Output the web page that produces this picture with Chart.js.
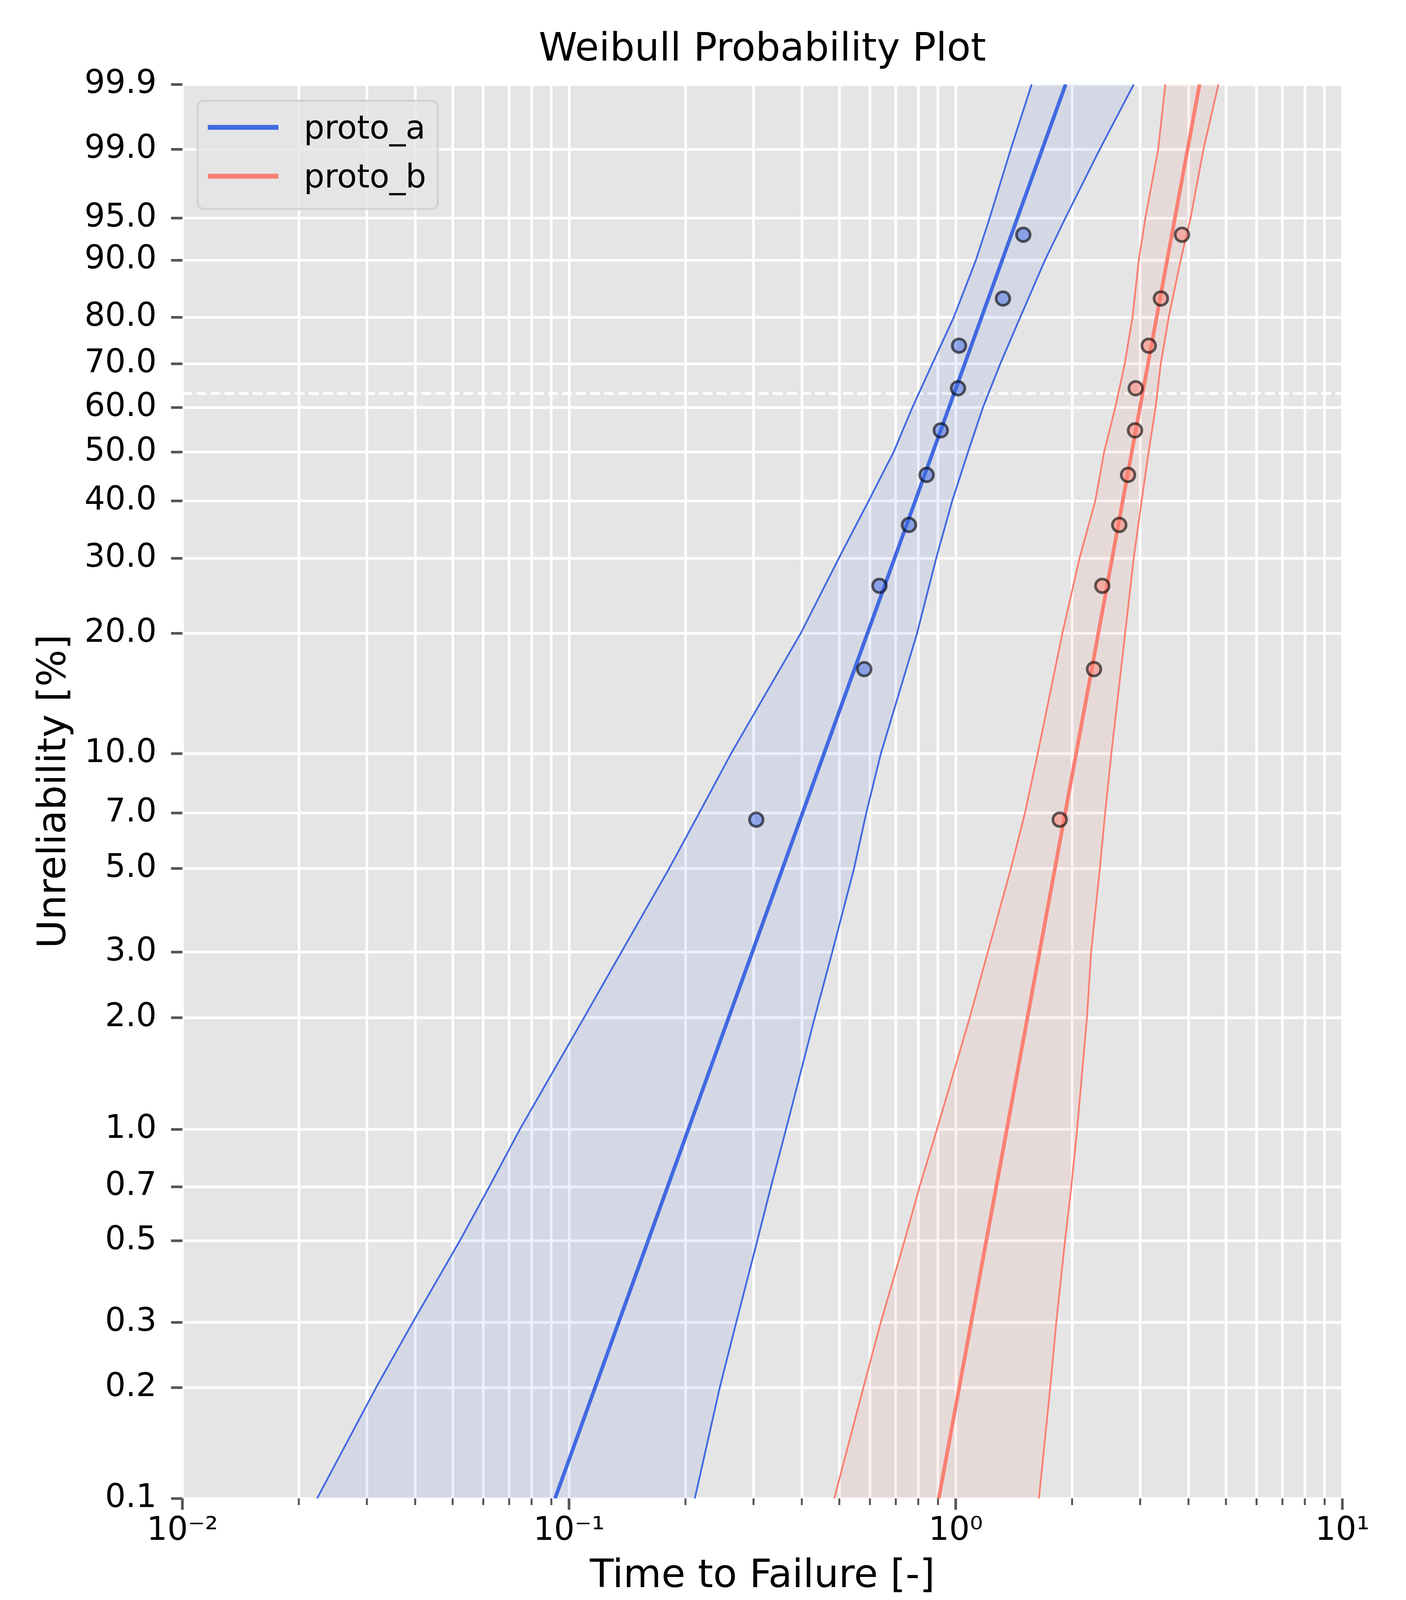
<!DOCTYPE html>
<html>
<head>
<meta charset="utf-8">
<title>Weibull Probability Plot</title>
<script src="https://cdn.jsdelivr.net/npm/chart.js@4.4.1/dist/chart.umd.min.js"></script>
<style>
  html, body { margin: 0; padding: 0; background: #ffffff; }
</style>
</head>
<body>
<canvas id="canvas" width="3600" height="4200"></canvas>
<script>
// unreliability levels (%) where the confidence bounds were read
const levels = [0.1, 0.2, 0.3, 0.5, 0.7, 1, 2, 3, 5, 7, 10, 20, 30, 40, 50, 60, 70, 80, 90, 95, 99, 99.9]

// proto_a : bounds and fit (time to failure)
const aLower = [0.0223, 0.0317, 0.0394, 0.0522, 0.0622, 0.0746, 0.1093, 0.1366, 0.1814, 0.2170, 0.2625, 0.3972, 0.4983, 0.5953, 0.6908, 0.7725, 0.8699, 0.9883, 1.128, 1.224, 1.388, 1.572]
const aUpper = [0.2115, 0.2454, 0.2706, 0.3068, 0.3329, 0.3640, 0.4319, 0.4795, 0.5458, 0.5869, 0.6405, 0.7943, 0.8901, 0.9793, 1.076, 1.176, 1.304, 1.468, 1.702, 1.922, 2.359, 2.888]
const aFitF = [0.1, 99.9]
const aFitT = [0.092, 1.925]

// proto_b
const bLower = [0.4851, 0.5772, 0.6399, 0.7375, 0.8065, 0.8943, 1.087, 1.211, 1.389, 1.510, 1.630, 1.887, 2.090, 2.296, 2.420, 2.586, 2.737, 2.865, 2.975, 3.094, 3.339, 3.485]
const bUpper = [1.642, 1.756, 1.820, 1.918, 1.991, 2.061, 2.185, 2.240, 2.359, 2.435, 2.527, 2.743, 2.886, 3.026, 3.154, 3.288, 3.391, 3.555, 3.818, 4.051, 4.373, 4.781]
const bFitF = [0.1, 99.9]
const bFitT = [0.904, 4.273]

// failure times and their plotting positions (%)
const rankF = [6.73, 16.35, 25.96, 35.58, 45.19, 54.81, 64.42, 74.04, 83.65, 93.27]
const aTimes = [0.305, 0.580, 0.635, 0.757, 0.841, 0.915, 1.014, 1.020, 1.325, 1.496]
const bTimes = [1.858, 2.279, 2.394, 2.649, 2.791, 2.909, 2.921, 3.157, 3.394, 3.849]

// 63.2 % reference line
const refT = [0.01, 10]
const refF = [63.21, 63.21]

// axes
const yTickVals = [0.1, 0.2, 0.3, 0.5, 0.7, 1, 2, 3, 5, 7, 10, 20, 30, 40, 50, 60, 70, 80, 90, 95, 99, 99.9]
const xMajor = [0.01, 0.1, 1, 10]
const xMajorLabels = ['10\u207B\u00B2', '10\u207B\u00B9', '10\u2070', '10\u00B9']
const xMinor = [0.02, 0.03, 0.04, 0.05, 0.06, 0.07, 0.08, 0.09,
                0.2, 0.3, 0.4, 0.5, 0.6, 0.7, 0.8, 0.9,
                2, 3, 4, 5, 6, 7, 8, 9]
const xTickVals = xMajor.concat(xMinor).sort((p, q) => p - q)

const legendLabels = ['proto_a', 'proto_b']
const blue = '#4169E1'
const salmon = '#FA8072'
const legendColors = [blue, salmon]

const FONT = 'DejaVu Sans'
Chart.defaults.font.family = FONT

// weibull probability axis: ln(-ln(1-F))
function weib(p) {
    return Math.log(-Math.log(1 - p / 100))
}

class WeibullScale extends Chart.Scale {
    determineDataLimits() {
        this.min = this.options.lo
        this.max = this.options.hi
    }
    buildTicks() {
        return yTickVals.map(v => ({ value: v }))
    }
    getLabelForValue(v) {
        return v.toFixed(1)
    }
    configure() {
        super.configure()
        this._wLo = weib(this.min)
        this._wHi = weib(this.max)
    }
    getPixelForValue(v) {
        return this.getPixelForDecimal((weib(v) - this._wLo) / (this._wHi - this._wLo))
    }
    getValueForPixel(px) {
        const w = this._wLo + this.getDecimalForPixel(px) * (this._wHi - this._wLo)
        return 100 * (1 - Math.exp(-Math.exp(w)))
    }
}
WeibullScale.id = 'weibull'
WeibullScale.defaults = {}
Chart.register(WeibullScale)

function pts(ts, fs) {
    return ts.map((t, i) => ({ x: t, y: fs[i] }))
}

function roundBox(ctx, x, y, w, h, r) {
    ctx.beginPath()
    ctx.moveTo(x + r, y)
    ctx.arcTo(x + w, y, x + w, y + h, r)
    ctx.arcTo(x + w, y + h, x, y + h, r)
    ctx.arcTo(x, y + h, x, y, r)
    ctx.arcTo(x, y, x + w, y, r)
    ctx.closePath()
}

const decor = {
    id: 'decor',
    beforeDraw(chart) {
        const { ctx, chartArea: a } = chart
        ctx.save()
        ctx.fillStyle = '#ffffff'
        ctx.fillRect(0, 0, chart.width, chart.height)
        ctx.fillStyle = '#E5E5E5'
        ctx.fillRect(a.left, a.top, a.right - a.left, a.bottom - a.top)
        ctx.restore()
    },
    afterDraw(chart) {
        const { ctx, chartArea: a } = chart
        const xs = chart.scales.x
        ctx.save()
        // x tick marks, major longer than minor
        ctx.strokeStyle = '#555555'
        xTickVals.forEach(v => {
            const major = xMajor.includes(v)
            const px = xs.getPixelForValue(v)
            ctx.lineWidth = major ? 6.7 : 5
            ctx.beginPath()
            ctx.moveTo(px, a.bottom)
            ctx.lineTo(px, a.bottom + (major ? 29 : 17))
            ctx.stroke()
        })
        // legend box (upper left)
        const lx = a.left + 39, ly = a.top + 42, lw = 615, lh = 277
        roundBox(ctx, lx, ly, lw, lh, 16)
        ctx.fillStyle = 'rgba(229,229,229,0.8)'
        ctx.fill()
        ctx.strokeStyle = 'rgba(204,204,204,0.8)'
        ctx.lineWidth = 5
        ctx.stroke()
        ctx.font = '83px "' + FONT + '"'
        ctx.textBaseline = 'alphabetic'
        ctx.textAlign = 'left'
        legendLabels.forEach((lab, i) => {
            const cy = ly + 68 + i * 125
            ctx.strokeStyle = legendColors[i]
            ctx.lineWidth = 12.5
            ctx.beginPath()
            ctx.moveTo(lx + 26, cy)
            ctx.lineTo(lx + 207, cy)
            ctx.stroke()
            ctx.fillStyle = '#000000'
            ctx.fillText(lab, lx + 272, cy + 29)
        })
        ctx.restore()
    }
}

const bandA = 'rgba(65,105,225,0.1)'
const bandB = 'rgba(250,128,114,0.1)'

const datasets = [
    { data: pts(aLower, levels), borderColor: blue, borderWidth: 4.5, backgroundColor: bandA, fill: 1, order: 2 },
    { data: pts(aUpper, levels), borderColor: blue, borderWidth: 4.5, order: 2 },
    { data: pts(aFitT, aFitF), borderColor: blue, borderWidth: 9.5, order: 1 },
    { data: pts(aTimes, rankF), showLine: false, pointRadius: 17.5, pointBorderWidth: 7,
      pointBackgroundColor: 'rgba(65,105,225,0.5)', pointBorderColor: 'rgba(0,0,0,0.6)', order: 0 },
    { data: pts(bLower, levels), borderColor: salmon, borderWidth: 4.5, backgroundColor: bandB, fill: 5, order: 2 },
    { data: pts(bUpper, levels), borderColor: salmon, borderWidth: 4.5, order: 2 },
    { data: pts(bFitT, bFitF), borderColor: salmon, borderWidth: 9.5, order: 1 },
    { data: pts(bTimes, rankF), showLine: false, pointRadius: 17.5, pointBorderWidth: 7,
      pointBackgroundColor: 'rgba(250,128,114,0.5)', pointBorderColor: 'rgba(0,0,0,0.6)', order: 0 },
    { data: pts(refT, refF), borderColor: '#ffffff', borderWidth: 6.7, borderDash: [25, 11], order: 3 }
]
datasets.forEach(d => {
    if (d.pointRadius === undefined) d.pointRadius = 0
    d.clip = 0
    d.borderJoinStyle = 'round'
})

const canvas = document.getElementById('canvas')
new Chart(canvas.getContext('2d'), {
    type: 'line',
    data: { datasets: datasets },
    plugins: [decor],
    options: {
        responsive: false,
        devicePixelRatio: 1,
        animation: false,
        events: [],
        indexAxis: 'y',
        layout: { padding: { left: 0, top: 0, right: 163, bottom: 0 } },
        plugins: {
            legend: { display: false },
            tooltip: { enabled: false },
            title: {
                display: true,
                text: 'Weibull Probability Plot',
                fullSize: false,
                color: '#000000',
                font: { size: 100, weight: 'normal' },
                padding: { top: 69, bottom: 27 }
            }
        },
        scales: {
            x: {
                type: 'logarithmic',
                axis: 'x',
                position: 'bottom',
                min: 0.01,
                max: 10,
                afterBuildTicks: s => { s.ticks = xTickVals.map(v => ({ value: v })) },
                afterFit: s => { s.height = 364 },
                border: { display: false },
                grid: { color: '#ffffff', lineWidth: 6.7, drawTicks: false },
                ticks: {
                    autoSkip: false,
                    maxRotation: 0,
                    padding: 35,
                    color: '#000000',
                    font: { size: 83 },
                    callback: v => {
                        const i = xMajor.indexOf(v)
                        return i >= 0 ? xMajorLabels[i] : ''
                    }
                },
                title: {
                    display: true,
                    text: 'Time to Failure [-]',
                    color: '#000000',
                    font: { size: 100, weight: 'normal' },
                    padding: { top: 0, bottom: 103 }
                }
            },
            y: {
                type: 'weibull',
                axis: 'y',
                position: 'left',
                lo: 0.1,
                hi: 99.9,
                afterFit: s => { s.width = 467 },
                border: { display: false },
                grid: { color: '#ffffff', lineWidth: 6.7, tickColor: '#555555', tickWidth: 6.7, tickLength: 29 },
                ticks: {
                    autoSkip: false,
                    padding: 37,
                    color: '#000000',
                    font: { size: 83 },
                    callback: v => v.toFixed(1)
                },
                title: {
                    display: true,
                    text: 'Unreliability [%]',
                    color: '#000000',
                    font: { size: 100, weight: 'normal' },
                    padding: { top: 81, bottom: 0 }
                }
            }
        }
    }
})
</script>
</body>
</html>
